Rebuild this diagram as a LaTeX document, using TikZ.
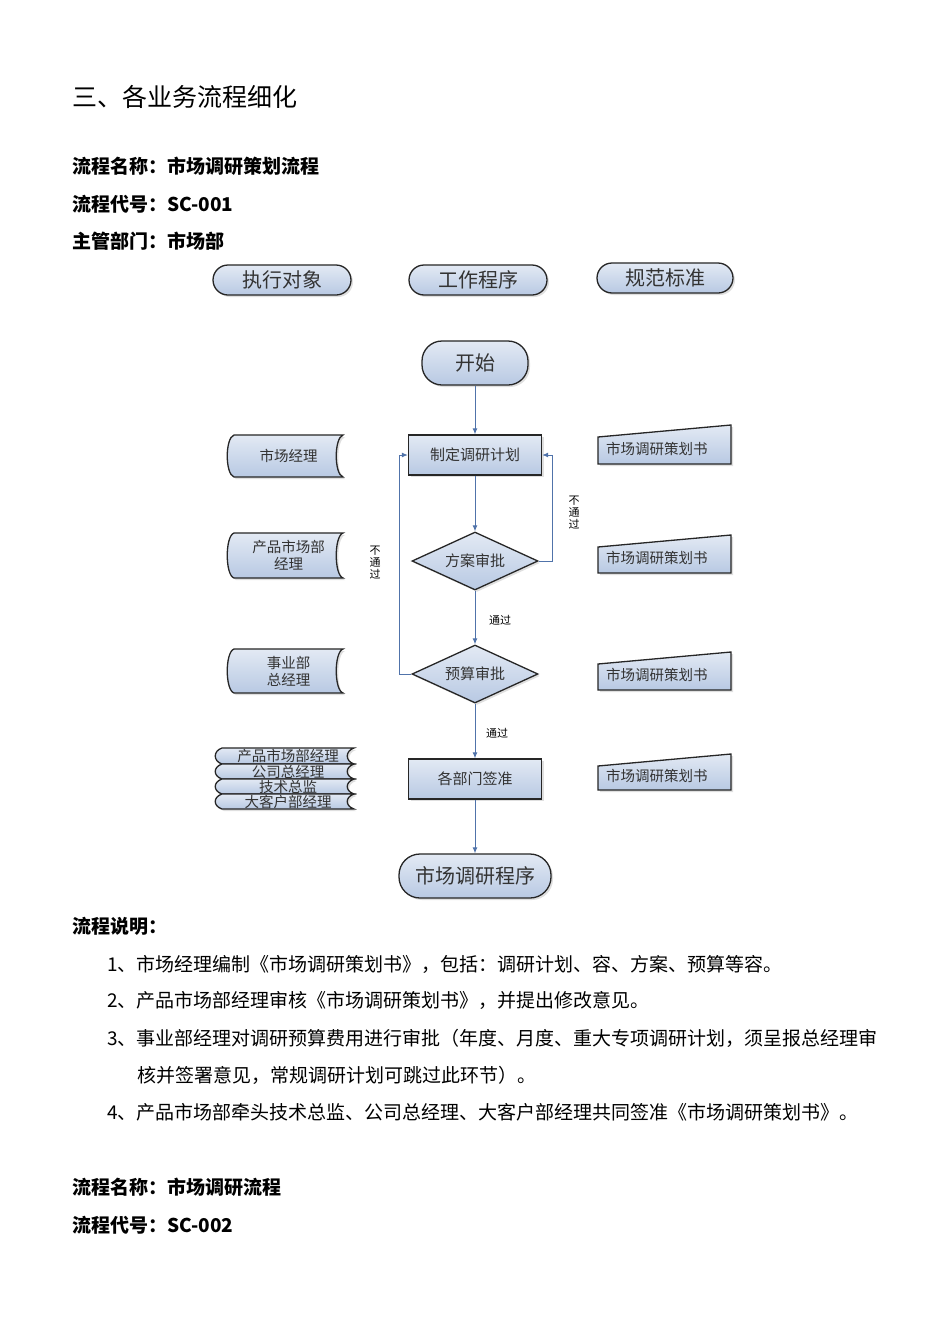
\documentclass[tikz,border=0pt]{standalone}
\usepackage{fontspec}
\setmainfont{Liberation Serif}
\newfontfamily\cjk{Noto Sans CJK SC}
\usetikzlibrary{shapes.geometric,arrows.meta,shadows}
\definecolor{fillb}{RGB}{184,201,227}
\definecolor{lineb}{RGB}{80,115,170}
\tikzset{
  shp/.style={draw=black!85,line width=1.3pt,top color=white!60!fillb,bottom color=fillb,drop shadow={opacity=0.25,shadow xshift=2pt,shadow yshift=-2pt}},
  pill/.style={shp,rounded corners=15pt,font=\cjk\fontsize{20}{20}\selectfont,text=black!80,inner sep=0pt},
  procbox/.style={shp,rectangle,minimum width=133pt,minimum height=40pt,font=\cjk\fontsize{15}{15}\selectfont,text=black!80},
  dia/.style={shp,diamond,aspect=2.2,minimum width=126pt,minimum height=58pt,inner sep=0pt,font=\cjk\fontsize{15}{15}\selectfont,text=black!80},
  lab/.style={font=\cjk\fontsize{14.5}{17}\selectfont,text=black!80,align=center,inner sep=0pt},
  stk/.style={font=\cjk\fontsize{14.5}{14}\selectfont,text=black!80,inner sep=0pt},
  small/.style={font=\cjk\fontsize{11}{12}\selectfont,fill=white,inner sep=1pt,align=center},
  conn/.style={draw=lineb,line width=1pt,-{Latex[length=6pt,width=5pt]}},
  body/.style={anchor=west,font=\cjk\fontsize{19}{19}\selectfont,inner sep=0pt},
  head/.style={anchor=west,font=\cjk\bfseries\fontsize{19}{19}\selectfont,inner sep=0pt}
}
\newcommand\storedat[7]{%
  \path[shp] (#2,#3) -- (#4,#3) .. controls (#4-9,#3+3) and (#4-9,#5-3) .. (#4,#5) -- (#2,#5) .. controls (#2-9,#5-3) and (#2-9,#3+3) .. cycle;
  \node[#7] (#1) at ({(#2+#4)/2},{(#3+#5)/2}) {#6};}
\newcommand\docin[5]{%
  \path[shp] (#2,#3+12) -- (#4,#3) -- (#4,#5) -- (#2,#5) -- cycle;
  \node[lab,anchor=west] (#1) at (#2+8,{(#3+#5)/2+4}) {市场调研策划书};}
\begin{document}
\begin{tikzpicture}[x=1pt,y=-1pt]
\useasboundingbox (0,0) rectangle (950,1344);
\fill[white] (0,0) rectangle (950,1344);
\node[anchor=west,font=\cjk\fontsize{25}{25}\selectfont,inner sep=0pt] (title) at (72,97) {三、各业务流程细化};
\node[head] (h1) at (72,166) {流程名称：市场调研策划流程};
\node[head] (h2) at (72,204) {流程代号：\textbf{SC-001}};
\node[head] (h3) at (72,241) {主管部门：市场部};
% header pills
\node[pill,minimum width=138pt,minimum height=30pt] (c1) at (282,280) {执行对象};
\node[pill,minimum width=138pt,minimum height=30pt] (c2) at (478,280) {工作程序};
\node[pill,minimum width=136pt,minimum height=30pt] (c3) at (665,278) {规范标准};
% flow
\node[pill,rounded corners=20pt,minimum width=106pt,minimum height=44pt] (start) at (475,363) {开始};
\node[procbox] (plan) at (475,455) {制定调研计划};
\node[dia] (d1) at (475,561) {方案审批};
\node[dia] (d2) at (475,674) {预算审批};
\node[procbox] (sign) at (475,779) {各部门签准};
\node[pill,rounded corners=21pt,minimum width=152pt,minimum height=44pt] (end) at (475,876) {市场调研程序};
\draw[conn] (start) -- (plan);
\draw[conn] (plan) -- (d1);
\draw[conn] (d1) -- node[small,pos=0.55,xshift=25pt] (l1) {通过} (d2);
\draw[conn] (d2) -- node[small,pos=0.55,xshift=22pt] (l2) {通过} (sign);
\draw[conn] (sign) -- (end);
\coordinate (r1) at (552,561); \coordinate (r2) at (552,455);
\draw[conn] (d1.east) -- (r1) -- (r2) -- (plan.east);
\coordinate (q1) at (399,674); \coordinate (q2) at (399,455);
\draw[conn] (d2.west) -- (q1) -- (q2) -- (plan.west);
\node[small] (n1) at (574,513) {不\\通\\过};
\node[small] (n2) at (375,563) {不\\通\\过};
% left roles
\storedat{a1}{234}{435}{343}{477}{市场经理}{lab}
\storedat{a2}{234}{533}{343}{578}{产品市场部\\经理}{lab}
\storedat{a3}{234}{649}{343}{693}{事业部\\总经理}{lab}
\storedat{s1}{222}{748}{354}{764}{产品市场部经理}{stk}
\storedat{s2}{222}{764}{354}{779}{公司总经理}{stk}
\storedat{s3}{222}{779}{354}{794}{技术总监}{stk}
\storedat{s4}{222}{794}{354}{809}{大客户部经理}{stk}
% right documents
\docin{b1}{598}{425}{731}{464}
\docin{b2}{598}{535}{731}{573}
\docin{b3}{598}{652}{731}{690}
\docin{b4}{598}{754}{731}{790}
% text
\node[head] (t0) at (72,926) {流程说明：};
\node[body] (t1) at (107,964) {1、市场经理编制《市场调研策划书》，包括：调研计划、容、方案、预算等容。};
\node[body] (t2) at (107,1000) {2、产品市场部经理审核《市场调研策划书》，并提出修改意见。};
\node[body] (t3) at (107,1038) {3、事业部经理对调研预算费用进行审批（年度、月度、重大专项调研计划，须呈报总经理审};
\node[body] (t3b) at (137,1075) {核并签署意见，常规调研计划可跳过此环节）。};
\node[body] (t4) at (107,1112) {4、产品市场部牵头技术总监、公司总经理、大客户部经理共同签准《市场调研策划书》。};
\node[head] (h4) at (72,1187) {流程名称：市场调研流程};
\node[head] (h5) at (72,1225) {流程代号：\textbf{SC-002}};
\end{tikzpicture}
\end{document}
